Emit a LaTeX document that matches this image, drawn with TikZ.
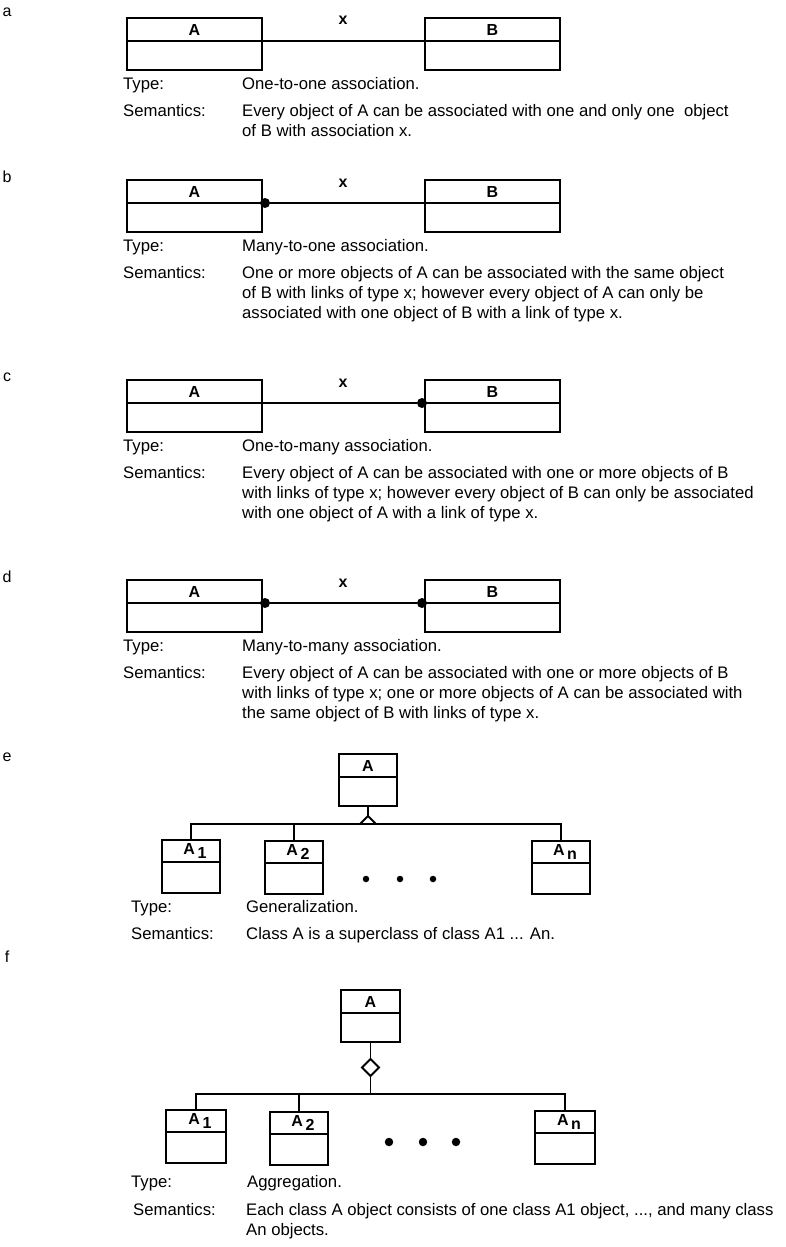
\documentclass[tikz,border=0pt]{standalone}
\usepackage{fontspec}
\setmainfont{Liberation Sans}
\usetikzlibrary{shapes.geometric}
\newcommand{\cls}[7]{% name, x, y, width, header height, body height, label
  \node[hdr, minimum width=#4, minimum height=#5] (#1) at (#2,#3) {#7};
  \node[bdy, minimum width=#4, minimum height=#6] (#1-b) at (#1.south west) {};}
\newcommand{\sub}[2]{\hspace*{8pt}#1\,\raisebox{-4pt}{#2}}
\begin{document}
\begin{tikzpicture}[x=1pt,y=-1pt,
  hdr/.style={draw, line width=1.8pt, inner sep=0pt, outer sep=0pt, anchor=north west, font=\bfseries\fontsize{16}{18}\selectfont},
  bdy/.style={draw, line width=1.8pt, inner sep=0pt, outer sep=0pt, anchor=north west},
  txt/.style={anchor=base west, inner sep=0pt, font=\fontsize{16.7}{20}\selectfont},
  lbl/.style={inner sep=0pt, font=\bfseries\fontsize{16}{18}\selectfont},
  plbl/.style={inner sep=0pt, font=\fontsize{16}{18}\selectfont},
  lnk/.style={line width=1.5pt},
  dotend/.style={circle, fill, inner sep=0pt, outer sep=0pt, minimum size=10pt},
  edot/.style={circle, fill, inner sep=0pt, minimum size=6.5pt},
  fdot/.style={circle, fill, inner sep=0pt, minimum size=8.5pt},
  agg/.style={diamond, draw, line width=1.8pt, fill=white, inner sep=0pt, outer sep=0pt, minimum width=17pt, minimum height=17pt}]
\useasboundingbox (0,0) rectangle (786,1247);

% ---------- a ----------
\node[plbl] (la) at (7,12) {a};
\cls{aA}{127}{18}{135pt}{23pt}{29pt}{A}
\cls{aB}{425}{18}{135pt}{23pt}{29pt}{B}
\draw[lnk] (aA.south east) -- (aB.south west);
\node[lbl] (ax) at (343,20) {x};
\node[txt] (aT) at (123,89) {Type:};
\node[txt] (aTt) at (242,89) {One-to-one association.};
\node[txt] (aS) at (123,116) {Semantics:};
\node[txt] (aS1) at (242,116) {Every object of A can be associated with one and only one\ \ object};
\node[txt] (aS2) at (242,136) {of B with association x.};

% ---------- b ----------
\node[plbl] (lb) at (7,177) {b};
\cls{bA}{127}{180}{135pt}{23pt}{29pt}{A}
\cls{bB}{425}{180}{135pt}{23pt}{29pt}{B}
\node[dotend] (bd) at ([xshift=3pt]bA.south east) {};
\draw[lnk] (bd) -- (bB.south west);
\node[lbl] (bx) at (343,183) {x};
\node[txt] (bT) at (123,251) {Type:};
\node[txt] (bTt) at (242,251) {Many-to-one association.};
\node[txt] (bS) at (123,278) {Semantics:};
\node[txt] (bS1) at (242,278) {One or more objects of A can be associated with the same object};
\node[txt] (bS2) at (242,298) {of B with links of type x; however every object of A can only be};
\node[txt] (bS3) at (242,318) {associated with one object of B with a link of type x.};

% ---------- c ----------
\node[plbl] (lc) at (7,377) {c};
\cls{cA}{127}{380}{135pt}{23pt}{29pt}{A}
\cls{cB}{425}{380}{135pt}{23pt}{29pt}{B}
\node[dotend] (cd) at ([xshift=-3pt]cB.south west) {};
\draw[lnk] (cA.south east) -- (cd);
\node[lbl] (cx) at (343,383) {x};
\node[txt] (cT) at (123,451) {Type:};
\node[txt] (cTt) at (242,451) {One-to-many association.};
\node[txt] (cS) at (123,478) {Semantics:};
\node[txt] (cS1) at (242,478) {Every object of A can be associated with one or more objects of B};
\node[txt] (cS2) at (242,498) {with links of type x; however every object of B can only be associated};
\node[txt] (cS3) at (242,518) {with one object of A with a link of type x.};

% ---------- d ----------
\node[plbl] (ld) at (7,577) {d};
\cls{dA}{127}{580}{135pt}{23pt}{29pt}{A}
\cls{dB}{425}{580}{135pt}{23pt}{29pt}{B}
\node[dotend] (dd1) at ([xshift=3pt]dA.south east) {};
\node[dotend] (dd2) at ([xshift=-3pt]dB.south west) {};
\draw[lnk] (dd1) -- (dd2);
\node[lbl] (dx) at (343,583) {x};
\node[txt] (dT) at (123,651) {Type:};
\node[txt] (dTt) at (242,651) {Many-to-many association.};
\node[txt] (dS) at (123,678) {Semantics:};
\node[txt] (dS1) at (242,678) {Every object of A can be associated with one or more objects of B};
\node[txt] (dS2) at (242,698) {with links of type x; one or more objects of A can be associated with};
\node[txt] (dS3) at (242,718) {the same object of B with links of type x.};

% ---------- e ----------
\node[plbl] (le) at (7,757) {e};
\cls{eA}{339}{754}{58pt}{23pt}{29pt}{A}
\cls{eA1}{162}{840}{58pt}{22pt}{31pt}{\sub{A}{1}}
\cls{eA2}{265}{841}{58pt}{22pt}{31pt}{\sub{A}{2}}
\cls{eAn}{532}{841}{58pt}{22pt}{31pt}{\sub{A}{n}}
\coordinate (ebar) at (0,824);
\draw[lnk] (eA1.north) -- (eA1.north |- ebar) -- (eAn.north |- ebar) -- (eAn.north);
\draw[lnk] (eA2.north) -- (eA2.north |- ebar);
\draw[lnk] (eA-b.south) -- ++(0,10) coordinate (eap);
\draw[line width=1.8pt, fill=white] (eap) -- ++(-8,8) -- ++(16,0) -- cycle;
\node[edot] (ed1) at (366,879) {};
\node[edot] (ed2) at (400,879) {};
\node[edot] (ed3) at (433,879) {};
\node[txt] (eT) at (131,912) {Type:};
\node[txt] (eTt) at (246,912) {Generalization.};
\node[txt] (eS) at (131,939) {Semantics:};
\node[txt] (eS1) at (246,939) {Class A is a superclass of class A1 ... An.};

% ---------- f ----------
\node[plbl] (lf) at (7,957) {f};
\cls{fA}{341}{990}{59pt}{23pt}{29pt}{A}
\cls{fA1}{166}{1110}{60pt}{22pt}{31pt}{\sub{A}{1}}
\cls{fA2}{270}{1112}{58pt}{22pt}{31pt}{\sub{A}{2}}
\cls{fAn}{535}{1111}{60pt}{22pt}{31pt}{\sub{A}{n}}
\node[agg, anchor=north] (fdia) at ([yshift=-17pt]fA-b.south) {};
\draw[lnk] (fA-b.south) -- (fdia.north);
\coordinate (fbar) at (0,1094);
\draw[lnk] (fdia.south) -- (fdia.south |- fbar);
\draw[lnk] (fA1.north) -- (fA1.north |- fbar) -- (fAn.north |- fbar) -- (fAn.north);
\draw[lnk] (fA2.north) -- (fA2.north |- fbar);
\node[fdot] (fd1) at (389,1142) {};
\node[fdot] (fd2) at (423,1142) {};
\node[fdot] (fd3) at (456,1142) {};
\node[txt] (fT) at (131,1187) {Type:};
\node[txt] (fTt) at (247,1187) {Aggregation.};
\node[txt] (fS) at (133,1215) {Semantics:};
\node[txt] (fS1) at (246,1215) {Each class A object consists of one class A1 object, ..., and many class};
\node[txt] (fS2) at (246,1235) {An objects.};
\end{tikzpicture}
\end{document}
